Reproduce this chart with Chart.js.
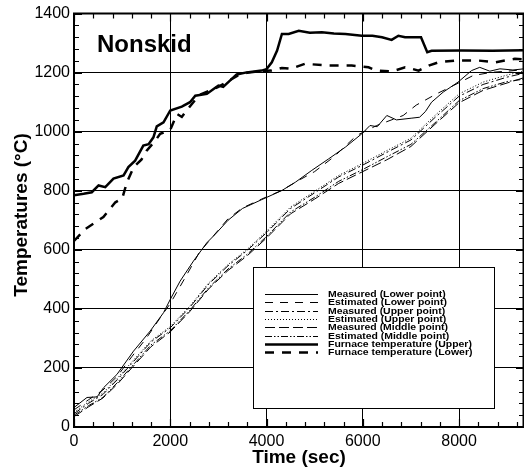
<!DOCTYPE html>
<html>
<head>
<meta charset="utf-8">
<script src="https://cdn.jsdelivr.net/npm/chart.js@4.4.1/dist/chart.umd.min.js"></script>
<style>
html,body{margin:0;padding:0;background:#fff;}
#wrap{width:524px;height:468px;}
</style>
</head>
<body>
<div id="wrap"><canvas id="c" width="524" height="468"></canvas></div>
<script>
// ---- data (time in sec, temperature in °C) ----
const furnaceUpperX = [0,200,370,510,650,820,1030,1130,1270,1440,1550,1650,1720,1860,2000,2240,2410,2520,2760,2900,3000,3100,3240,3380,3590,3900,4000,4110,4220,4320,4460,4670,4900,5150,5400,5640,5980,6200,6400,6600,6740,6880,7210,7340,7430,8050,8700,9350];
const furnaceUpperY = [785,790,795,818,812,841,852,880,902,953,958,981,1018,1032,1072,1085,1100,1122,1128,1145,1156,1152,1173,1194,1201,1207,1212,1235,1275,1331,1331,1342,1335,1337,1333,1331,1325,1325,1320,1311,1325,1320,1320,1269,1274,1275,1274,1276];

const furnaceLowerX = [0,240,610,860,1000,1100,1240,1400,1510,1690,1790,2000,2140,2240,2340,2450,2600,3000,3400,3600,3900,4100,4320,4500,4800,5290,5770,6120,6290,6600,6880,7020,7160,7370,7570,7920,8400,8750,9160,9350];
const furnaceLowerY = [630,671,711,761,773,829,880,905,936,970,993,1006,1060,1050,1072,1094,1124,1152,1190,1200,1205,1207,1216,1213,1230,1224,1224,1218,1207,1204,1218,1213,1207,1224,1235,1241,1241,1235,1247,1245];

const measLowerX = [0,270,480,614,892,1237,1583,1860,2000,2205,2482,2760,2930,3200,3500,3900,4320,4600,4940,5290,5640,5980,6150,6300,6500,6700,7020,7180,7300,7430,7670,7980,8260,8430,8640,8850,9120,9350];
const measLowerY = [66,100,102,133,178,257,325,387,432,494,562,624,652,700,740,770,801,829,869,908,948,993,1021,1017,1055,1040,1046,1049,1068,1100,1134,1168,1207,1218,1205,1213,1209,1213];

const estLowerX = [0,300,600,900,1200,1500,1800,2000,2300,2600,2900,3200,3500,3900,4300,4700,5000,5400,5870,6290,6840,7110,7530,7880,8290,8670,9000,9350];
const estLowerY = [58,92,125,172,238,300,372,418,503,590,648,705,742,772,800,838,865,915,987,1021,1055,1090,1128,1156,1190,1201,1205,1210];

const groupX = [0,300,600,900,1200,1600,2000,2400,2800,3200,3600,4000,4500,5000,5500,6000,6500,7000,7500,8000,8500,9000,9350];
const measUpperY  = [45,80,110,160,215,288,336,404,484,546,598,658,740,793,847,887,930,972,1048,1120,1160,1185,1198];
const estUpperY   = [50,85,115,165,220,292,340,408,488,550,602,663,745,798,852,893,936,978,1055,1128,1168,1192,1205];
const measMiddleY = [35,68,98,145,200,272,322,390,468,530,580,640,722,772,825,865,905,950,1025,1098,1140,1165,1183];
const estMiddleY  = [40,72,100,150,205,278,326,394,472,535,585,645,728,778,832,872,915,957,1030,1105,1146,1170,1178];

const xTicks = [0,2000,4000,6000,8000];
const yTicks = [0,200,400,600,800,1000,1200,1400];
const seriesLabels = ['Measured (Lower point)','Estimated (Lower point)','Measured (Upper point)','Estimated (Upper point)','Measured (Middle point)','Estimated (Middle point)','Furnace temperature (Upper)','Furnace temperature (Lower)'];

const X_MAX = 9350, Y_MAX = 1400;

function pts(xs, ys){ return xs.map((x,i)=>({x:x,y:ys[i]})); }

function ds(label, xs, ys, width, dash){
  return {label:label, data:pts(xs,ys), borderColor:'#000', backgroundColor:'#000',
    borderWidth:width, borderDash:dash, pointRadius:0, tension:0, fill:false};
}

const datasets = [
  ds(seriesLabels[0], measLowerX, measLowerY, 1, []),
  ds(seriesLabels[1], estLowerX, estLowerY, 1, [8,7]),
  ds(seriesLabels[2], groupX, measUpperY, 1, [8,3,2,3]),
  ds(seriesLabels[3], groupX, estUpperY, 1, [1,2]),
  ds(seriesLabels[4], groupX, measMiddleY, 1, [10,4]),
  ds(seriesLabels[5], groupX, estMiddleY, 1, [7,2,1.5,2,1.5,2]),
  ds(seriesLabels[6], furnaceUpperX, furnaceUpperY, 2.5, []),
  ds(seriesLabels[7], furnaceLowerX, furnaceLowerY, 2.5, [9,8])
];

const FONT = "'Liberation Sans', Arial, Helvetica, sans-serif";
Chart.defaults.font.family = FONT;
Chart.defaults.color = '#000';

const decor = {
  id:'decor',
  beforeDraw(chart){
    const ctx = chart.ctx;
    ctx.save(); ctx.fillStyle='#fff'; ctx.fillRect(0,0,chart.width,chart.height); ctx.restore();
  },
  afterDraw(chart){
    const ctx = chart.ctx, a = chart.chartArea;
    const xs = chart.scales.x, ys = chart.scales.y;
    ctx.save();
    ctx.strokeStyle = '#000';
    // frame
    ctx.lineWidth = 2;
    ctx.beginPath();
    ctx.moveTo(a.left, a.bottom); ctx.lineTo(a.left, a.top); ctx.lineTo(a.right-0.5, a.top); ctx.lineTo(a.right-0.5, a.bottom); ctx.lineTo(a.left, a.bottom);
    ctx.stroke();
    // inward ticks
    ctx.lineWidth = 1.2;
    ctx.beginPath();
    for (let v=0; v<=X_MAX; v+=400){
      const px = Math.round(xs.getPixelForValue(v))+0.5;
      const L = (v%2000===0)?8:5;
      ctx.moveTo(px,a.bottom); ctx.lineTo(px,a.bottom-L);
      ctx.moveTo(px,a.top); ctx.lineTo(px,a.top+L);
    }
    for (let v=0; v<=Y_MAX; v+=40){
      const py = Math.round(ys.getPixelForValue(v))+0.5;
      const L = (v%200===0)?8:5;
      ctx.moveTo(a.left,py); ctx.lineTo(a.left+L,py);
      ctx.moveTo(a.right,py); ctx.lineTo(a.right-L,py);
    }
    ctx.stroke();

    // titles
    ctx.fillStyle='#000';
    ctx.font = "bold 19px "+FONT;
    ctx.textAlign='center'; ctx.textBaseline='alphabetic';
    ctx.fillText('Time (sec)', (a.left+a.right)/2, 463);
    ctx.save();
    ctx.translate(27, 215); ctx.rotate(-Math.PI/2);
    ctx.fillText('Temperatures (°C)', 0, 0);
    ctx.restore();
    ctx.font = "bold 24px "+FONT;
    ctx.textAlign='left';
    ctx.fillText('Nonskid', 97, 52);

    // legend
    const bx=253, by=267, bw=241, bh=141;
    ctx.fillStyle='#fff'; ctx.fillRect(bx,by,bw,bh);
    ctx.lineWidth=1; ctx.strokeStyle='#000';
    ctx.strokeRect(bx+0.5,by+0.5,bw,bh);
    ctx.font = "bold 9px "+FONT;
    ctx.textBaseline='middle'; ctx.textAlign='left';
    chart.data.datasets.forEach((d,i)=>{
      const yy = 294 + i*8.35;
      ctx.beginPath();
      ctx.lineWidth = d.borderWidth;
      ctx.setLineDash(d.borderDash||[]);
      ctx.moveTo(265, Math.round(yy)+0.5); ctx.lineTo(318, Math.round(yy)+0.5);
      ctx.stroke();
      ctx.setLineDash([]);
      ctx.fillStyle='#000';
      ctx.save();
      ctx.translate(328, yy+0.5);
      ctx.scale(1.16, 1);
      ctx.fillText(d.label, 0, 0);
      ctx.restore();
    });
    ctx.restore();
  }
};

new Chart(document.getElementById('c'), {
  type:'line',
  data:{datasets:datasets},
  options:{
    responsive:false, animation:false, devicePixelRatio:1,
    layout:{padding:{top:13,right:0,left:0,bottom:0}},
    plugins:{legend:{display:false}, tooltip:{enabled:false}},
    scales:{
      x:{type:'linear', min:0, max:X_MAX,
        afterFit(s){ s.height = 41; },
        afterBuildTicks(s){ s.ticks = xTicks.map(v=>({value:v})); },
        ticks:{font:{size:16}, padding:5, maxRotation:0, color:'#000', callback:(v)=>String(v)},
        grid:{color:'#000', lineWidth:1, drawTicks:false},
        border:{display:true, color:'#000', width:2}
      },
      y:{type:'linear', min:0, max:Y_MAX,
        afterFit(s){ s.width = 74; },
        afterBuildTicks(s){ s.ticks = yTicks.map(v=>({value:v})); },
        ticks:{font:{size:16}, padding:4, color:'#000', callback:(v)=>String(v)},
        grid:{color:'#000', lineWidth:1, drawTicks:false},
        border:{display:true, color:'#000', width:2}
      }
    }
  },
  plugins:[decor]
});
</script>
</body>
</html>
